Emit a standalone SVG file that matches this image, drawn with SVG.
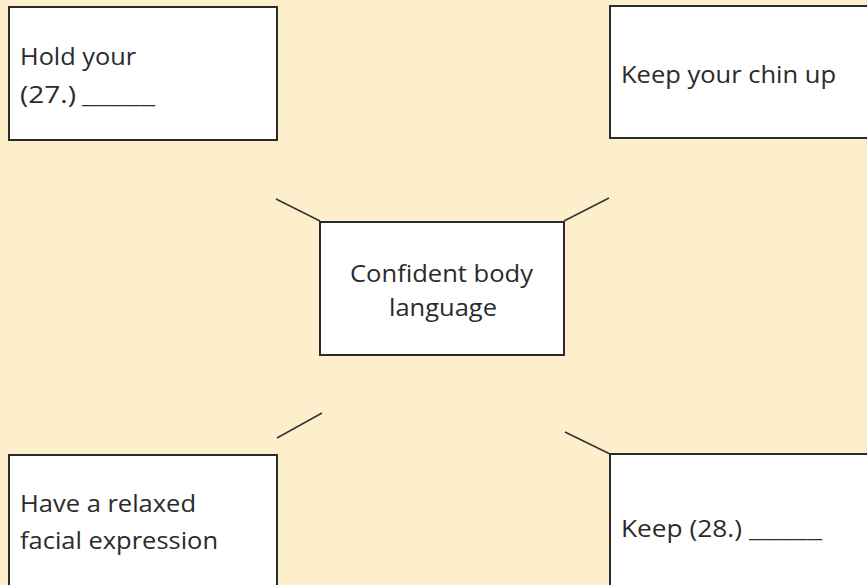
<svg xmlns="http://www.w3.org/2000/svg" width="867" height="585" viewBox="0 0 867 585">
<style>
.box{fill:#ffffff;stroke:#2a2a2a;stroke-width:2}
.t{font-family:"Open Sans","Liberation Sans",sans-serif;font-size:24px;fill:#2b2b2b}
.c{text-anchor:middle}
.ln{stroke:#333;stroke-width:1.5;fill:none}
</style>
<rect width="867" height="585" fill="#fdefcc"/>
<g id="connectors">
<line class="ln" x1="276" y1="199" x2="320" y2="221"/>
<line class="ln" x1="564" y1="221" x2="609" y2="198"/>
<line class="ln" x1="277" y1="438" x2="322" y2="413"/>
<line class="ln" x1="565" y1="432" x2="610" y2="454"/>
</g>
<g id="node-tl">
<rect class="box" x="9" y="7" width="268" height="133"/>
<text class="t" x="20" y="65" textLength="116" lengthAdjust="spacingAndGlyphs">Hold your</text>
<text class="t" x="20" y="103"><tspan textLength="56" lengthAdjust="spacingAndGlyphs">(27.)</tspan> <tspan x="82" textLength="73" lengthAdjust="spacingAndGlyphs">_____</tspan></text>
</g>
<g id="node-tr">
<rect class="box" x="610" y="6" width="262" height="132"/>
<text class="t" x="621" y="83" textLength="215" lengthAdjust="spacingAndGlyphs">Keep your chin up</text>
</g>
<g id="node-center">
<rect class="box" x="320" y="222" width="244" height="133"/>
<text class="t" x="350" y="282" textLength="183" lengthAdjust="spacingAndGlyphs">Confident body</text>
<text class="t" x="389" y="316" textLength="108" lengthAdjust="spacingAndGlyphs">language</text>
</g>
<g id="node-bl">
<rect class="box" x="9" y="455" width="268" height="140"/>
<text class="t" x="20" y="512" textLength="176" lengthAdjust="spacingAndGlyphs">Have a relaxed</text>
<text class="t" x="20" y="549" textLength="198" lengthAdjust="spacingAndGlyphs">facial expression</text>
</g>
<g id="node-br">
<rect class="box" x="610" y="454" width="262" height="140"/>
<text class="t" x="621" y="537"><tspan textLength="121" lengthAdjust="spacingAndGlyphs">Keep (28.)</tspan> <tspan x="749" textLength="73" lengthAdjust="spacingAndGlyphs">_____</tspan></text>
</g>
</svg>
